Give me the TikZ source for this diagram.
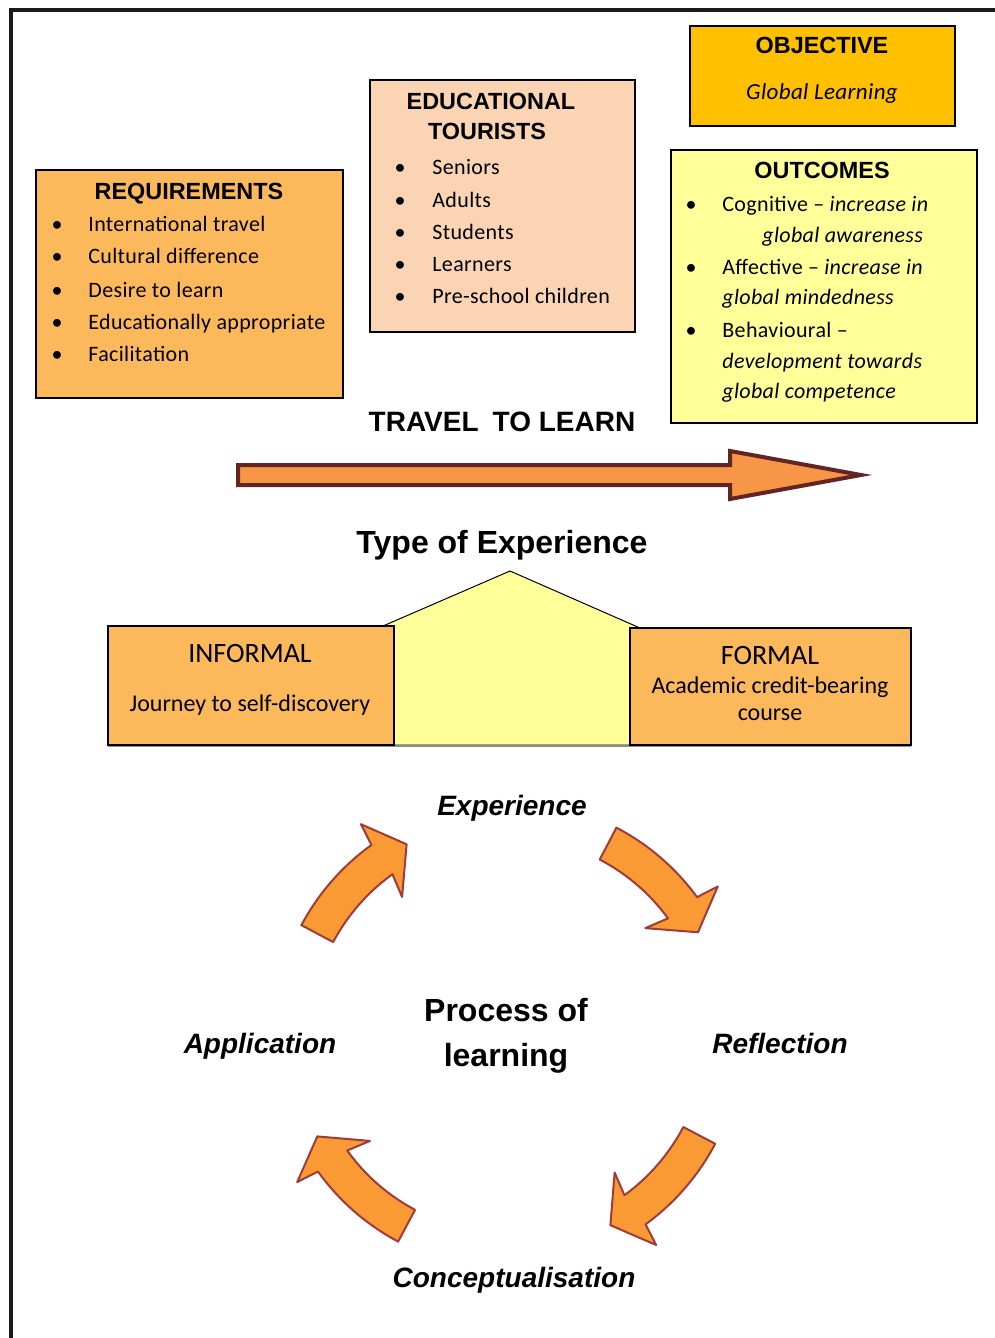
\documentclass[tikz,border=0pt]{standalone}
\usepackage{fontspec}
\setmainfont{Carlito}
\newfontfamily\calsp{Carlito}[LetterSpace=1.6]
\newfontfamily\arialf{Liberation Sans}
\usetikzlibrary{calc}
\definecolor{reqorange}{HTML}{FBB95C}
\definecolor{peach}{HTML}{FBD4B4}
\definecolor{gold}{HTML}{FFC000}
\definecolor{paleyellow}{HTML}{FFFF99}
\definecolor{arroworange}{HTML}{F79646}
\definecolor{darkbrown}{HTML}{632523}
\definecolor{cycorange}{HTML}{F99A35}
\definecolor{cycborder}{HTML}{A03C38}
\newcommand\cycarrowpath[1]{%
  \pgfmathsetmacro\ta{#1}\pgfmathsetmacro\na{#1+26.3}\pgfmathsetmacro\pa{#1+34}%
  \filldraw[cycarrow] plot[domain=\ta:\na, samples=24] ({508+234*cos(\x)},{1035+234*sin(\x)})
    -- ({508+257*cos(\na+0.8)},{1035+257*sin(\na+0.8)})
    -- ({508+216*cos(\pa)},{1035+216*sin(\pa)})
    -- ({508+174*cos(\na-1.8)},{1035+174*sin(\na-1.8)})
    -- plot[domain=\na:\ta, samples=24] ({508+198*cos(\x)},{1035+198*sin(\x)}) -- cycle;}
\begin{document}
\begin{tikzpicture}[x=0.5pt,y=-0.5pt,
  panel/.style={draw=black, line width=1pt},
  head/.style={font=\arialf\bfseries\fontsize{11.7}{14}\selectfont, anchor=base, inner sep=0},
  item/.style={font=\calsp\fontsize{11}{13}\selectfont, anchor=base west, inner sep=0},
  bul/.style={font=\fontsize{11}{13}\selectfont, anchor=base, inner sep=0},
  sub/.style={font=\fontsize{12}{14}\selectfont, anchor=base, inner sep=0},
  big/.style={font=\arialf\bfseries\fontsize{16}{19}\selectfont, anchor=base, inner sep=0},
  cyclab/.style={font=\arialf\bfseries\itshape\fontsize{14}{17}\selectfont, anchor=base, inner sep=0},
  cycarrow/.style={fill=cycorange, draw=cycborder, line width=1pt, line join=round}]
\useasboundingbox (0,0) rectangle (995,1338);
\fill[white] (0,0) rectangle (995,1338);
% frame
\draw[line width=2pt, black!90] (10.5,1345) -- (10.5,10.5) -- (1000,10.5);

% REQUIREMENTS
\draw[panel, fill=reqorange] (36,170) rectangle (343,398);
\node[head] (reqT) at (189,199) {REQUIREMENTS};
\foreach \t/\y [count=\i] in {International travel/231, Cultural difference/263, Desire to learn/297, Educationally appropriate/329, Facilitation/361}{
  \node[bul] (reqB\i) at (57,\y) {•};
  \node[item] (req\i) at (88,\y) {\t};
}

% EDUCATIONAL TOURISTS
\draw[panel, fill=peach] (370,80) rectangle (635,332);
\node[head] (touT1) at (491,110) {EDUCATIONAL};
\node[head] (touT2) at (487,140) {TOURISTS};
\foreach \t/\y [count=\i] in {Seniors/175, Adults/207, Students/239, Learners/271, Pre-school children/303}{
  \node[bul] (touB\i) at (400,\y) {•};
  \node[item] (tou\i) at (432,\y) {\t};
}

% OBJECTIVE
\draw[panel, fill=gold] (690,26) rectangle (955,126);
\node[head] (objT) at (822,54) {OBJECTIVE};
\node[font=\calsp\itshape\fontsize{11.5}{13}\selectfont, anchor=base, inner sep=0] (objS) at (822,100) {Global Learning};

% OUTCOMES
\draw[panel, fill=paleyellow] (671,150) rectangle (977,423);
\node[head] (outT) at (822,178) {OUTCOMES};
\node[bul] (outB1) at (691,211) {•};
\node[bul] (outB2) at (691,274) {•};
\node[bul] (outB3) at (691,337) {•};
\node[item] (out1) at (722,211) {Cognitive – \textit{increase in}};
\node[item] (out2) at (762,242) {\textit{global awareness}};
\node[item] (out3) at (722,274) {Affective – \textit{increase in}};
\node[item] (out4) at (722,304) {\textit{global mindedness}};
\node[item] (out5) at (722,337) {Behavioural –};
\node[item] (out6) at (722,368) {\textit{development towards}};
\node[item] (out7) at (722,398) {\textit{global competence}};

% TRAVEL TO LEARN
\node[font=\arialf\bfseries\fontsize{14}{17}\selectfont, anchor=base, inner sep=0] (travel) at (502,431) {TRAVEL\hspace{0.5em}TO LEARN};
\draw[line width=2pt, draw=darkbrown, fill=arroworange, line join=miter]
  (238,465) -- (730,465) -- (730,451) -- (861,475) -- (730,499) -- (730,485) -- (238,485) -- cycle;

% Type of experience
\node[big] (type) at (502,553) {Type of Experience};
\filldraw[fill=paleyellow, draw=black, line width=0.5pt] (383,626) -- (510,571) -- (640,628) -- (640,745) -- (383,745) -- cycle;
\draw[black!45, line width=1.2pt] (108,746) -- (911,746);
\draw[panel, fill=reqorange] (108,626) rectangle (394,745);
\draw[panel, fill=reqorange] (630,628) rectangle (911,745);
\node[font=\fontsize{14}{16}\selectfont, anchor=base, inner sep=0] (infT) at (250,662) {INFORMAL};
\node[sub] (infS) at (250,711) {Journey to self-discovery};
\node[font=\fontsize{14}{16}\selectfont, anchor=base, inner sep=0] (forT) at (770,664) {FORMAL};
\node[sub] (forS1) at (770,693) {Academic credit-bearing};
\node[sub] (forS2) at (770,720) {course};

% learning cycle
\node[cyclab] (exp) at (512,815) {Experience};
\node[cyclab] (refl) at (780,1053) {Reflection};
\node[cyclab] (conc) at (514,1287) {Conceptualisation};
\node[cyclab] (appl) at (260,1053) {Application};
\node[big] (proc1) at (506,1021) {Process of};
\node[big] (proc2) at (506,1066) {learning};
\cycarrowpath{208}
\cycarrowpath{297.6}
\cycarrowpath{27.7}
\cycarrowpath{118}
\end{tikzpicture}
\end{document}
